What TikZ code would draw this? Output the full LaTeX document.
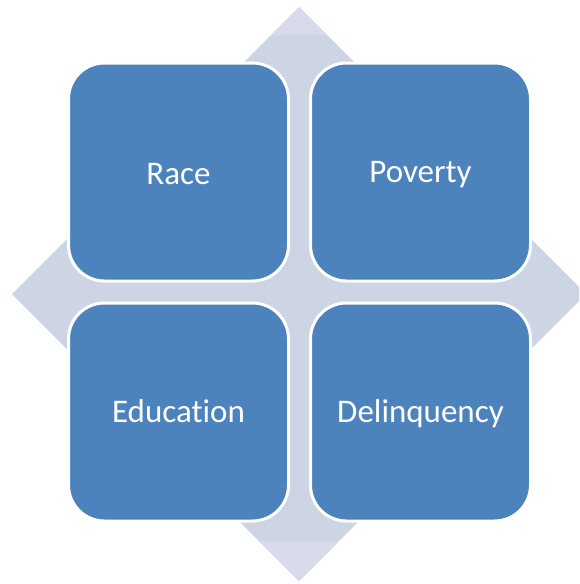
\documentclass[tikz,border=0pt]{standalone}
\usepackage{fontspec}
\setmainfont{Carlito}[Ligatures=NoCommon]
\definecolor{diamondfill}{HTML}{CDD5E5}
\definecolor{diamondtip}{HTML}{D9DAEB}
\definecolor{tilefill}{HTML}{4C83BD}
\begin{document}
\begin{tikzpicture}[x=1pt,y=-1pt,
  tile/.style={draw=white, line width=3pt, fill=tilefill, rounded corners=36pt,
    minimum width=220pt, minimum height=218pt, inner sep=0pt, outer sep=0pt},
  caption/.style={text=white, font=\fontsize{33}{39}\selectfont, anchor=base, inner sep=0pt}]
\useasboundingbox (0,0) rectangle (579,584);
% background four-way diamond
\begin{scope}
  \clip (0,0) rectangle (579,584);
  \fill[diamondfill] (299,7) -- (586,294) -- (299,581) -- (12,294) -- cycle;
  \fill[diamondtip] (299,7) -- (327,35) -- (271,35) -- cycle;
  \fill[diamondtip] (299,581) -- (259,541) -- (339,541) -- cycle;
\end{scope}
% the four tiles
\node[tile] (race) at (178.5,172) {};
\node[tile] (poverty) at (420.5,172) {};
\node[tile] (education) at (178.5,412) {};
\node[tile] (delinquency) at (420.5,412) {};
% tile captions
\node[caption] (racetext) at (178.5,184.5) {Race};
\node[caption] (povertytext) at (420.5,182) {Poverty};
\node[caption] (educationtext) at (178.5,422) {Education};
\node[caption] (delinquencytext) at (420.5,422) {Delinquency};
\end{tikzpicture}
\end{document}
